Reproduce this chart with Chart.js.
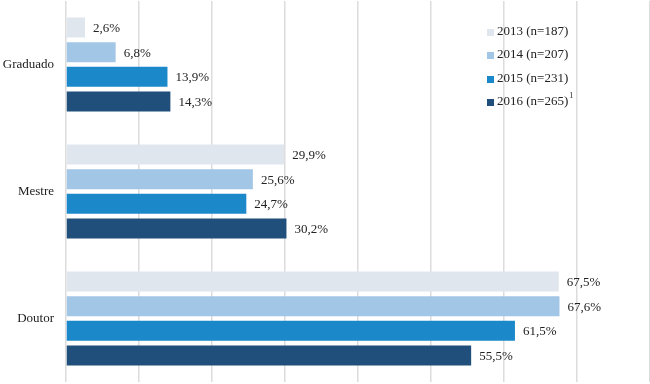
<!DOCTYPE html>
<html>
<head>
<meta charset="utf-8">
<script src="https://cdn.jsdelivr.net/npm/chart.js@4"></script>
<style>
  html, body { margin: 0; padding: 0; background: #fff; overflow: hidden; }
  canvas { display: block; }
</style>
</head>
<body>
<canvas id="chart" width="650" height="384"></canvas>
<script>
const categories = ["Graduado", "Mestre", "Doutor"];
const seriesLabels = ["2013 (n=187)", "2014 (n=207)", "2015 (n=231)", "2016 (n=265)"];
const values2013 = [2.6, 29.9, 67.5];
const values2014 = [6.8, 25.6, 67.6];
const values2015 = [13.9, 24.7, 61.5];
const values2016 = [14.3, 30.2, 55.5];
const colors = ["#dfe6ed", "#a2c6e6", "#1a88c9", "#1f4f7a"];

const FONT = "'Liberation Serif', 'Times New Roman', serif";

// value labels at the end of each bar, e.g. "67,5%"
const valueLabels = {
  id: "valueLabels",
  afterDatasetsDraw(chart) {
    const ctx = chart.ctx;
    ctx.save();
    ctx.font = "13px " + FONT;
    ctx.fillStyle = "#222";
    ctx.textAlign = "left";
    ctx.textBaseline = "middle";
    chart.data.datasets.forEach((ds, i) => {
      chart.getDatasetMeta(i).data.forEach((bar, j) => {
        const txt = ds.data[j].toFixed(1).replace(".", ",") + "%";
        ctx.fillText(txt, bar.x + 8, bar.y + 1);
      });
    });
    ctx.restore();
  },
};

// legend drawn inside the plot, top right
const innerLegend = {
  id: "innerLegend",
  afterDraw(chart) {
    const ctx = chart.ctx;
    ctx.save();
    ctx.font = "13px " + FONT;
    ctx.textBaseline = "middle";
    ctx.textAlign = "left";
    const x = 487;
    const rows = [32, 55, 79, 102];
    seriesLabels.forEach((label, i) => {
      ctx.fillStyle = colors[i];
      ctx.fillRect(x, rows[i] - 3, 7, 7);
      ctx.fillStyle = "#222";
      ctx.fillText(label, x + 10, rows[i]);
      if (i === 3) {
        const w = ctx.measureText(label).width;
        ctx.font = "8px " + FONT;
        ctx.fillText("1", x + 11 + w, rows[i] - 6);
      }
    });
    ctx.restore();
  },
};

new Chart(document.getElementById("chart"), {
  type: "bar",
  data: {
    labels: categories,
    datasets: [values2013, values2014, values2015, values2016].map((d, i) => ({
      label: seriesLabels[i],
      data: d,
      backgroundColor: colors[i],
      borderWidth: 0,
      categoryPercentage: 0.777,
      barPercentage: 0.81,
    })),
  },
  options: {
    indexAxis: "y",
    responsive: false,
    animation: false,
    layout: { autoPadding: false, padding: { top: 1, bottom: 2, left: 0, right: 0 } },
    scales: {
      x: {
        min: 0,
        max: 80,
        ticks: { display: false, stepSize: 10 },
        grid: { color: "#dcdcdc", lineWidth: 1.5, drawTicks: false },
        border: { display: false },
        afterFit(scale) {
          scale.height = 0;
          scale.paddingLeft = scale.paddingRight = 0;
        },
      },
      y: {
        grid: { display: false, drawTicks: false },
        border: { display: false },
        ticks: { font: { family: FONT, size: 13 }, color: "#222", padding: 12 },
        afterFit(scale) {
          scale.width = 66;
          scale.paddingTop = scale.paddingBottom = 0;
        },
      },
    },
    plugins: {
      legend: { display: false },
      tooltip: { enabled: false },
    },
  },
  plugins: [valueLabels, innerLegend],
});
</script>
</body>
</html>
